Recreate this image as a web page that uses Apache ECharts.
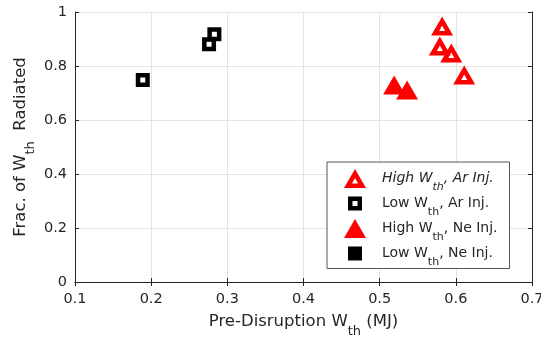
<!DOCTYPE html>
<html><head><meta charset="utf-8">
<script src="https://cdn.jsdelivr.net/npm/echarts@6/dist/echarts.min.js"></script>
<style>html,body{margin:0;padding:0;background:#fff}#c{width:541px;height:337px}</style>
</head><body><div id="c"></div>
<script>
const highAr = [[0.582, 0.948], [0.579, 0.874], [0.594, 0.848], [0.611, 0.767]];
const lowAr = [[0.189, 0.748], [0.276, 0.881], [0.283, 0.918]];
const highNe = [[0.519, 0.730], [0.536, 0.711]];
const lowNe = [];
const xTicks = [0.1, 0.2, 0.3, 0.4, 0.5, 0.6, 0.7];
const yTicks = [0, 0.2, 0.4, 0.6, 0.8, 1];
const names = ['High Ar', 'Low Ar', 'High Ne', 'Low Ne'];

const FONT = 'DejaVu Sans';
const TXT = '#262626';
const RED = '#ff0000';

// symbol shapes
const hollowTri = 'path://M0,19 L11,0 L22,19 Z M8,14.5 L14,14.5 L11,9 Z';
const hollowSq = 'path://M0,0 L0,14 L14,14 L14,0 Z M4.5,4.5 L9.5,4.5 L9.5,9.5 L4.5,9.5 Z';
// legend icons in a 44x19 box (tiny corner marks fix the box)
const pad = 'M0,0 L0.01,0 L0,0.01 Z M44,19 L43.99,19 L44,18.99 Z ';
const lgHollowTri = 'path://' + pad + 'M11,19 L22,0 L33,19 Z M19,14.5 L25,14.5 L22,9 Z';
const lgFilledTri = 'path://' + pad + 'M11,19 L22,0 L33,19 Z';
const lgHollowSq = 'path://' + pad + 'M15,2.5 L15,16.5 L29,16.5 L29,2.5 Z M19.5,7 L24.5,7 L24.5,12 L19.5,12 Z';
const lgFilledSq = 'path://' + pad + 'M15,2.5 L15,16.5 L29,16.5 L29,2.5 Z';

const chart = echarts.init(document.getElementById('c'));
const legendText = {
  'High Ar': '{i|High W}{is|th}{i|, Ar Inj.}',
  'Low Ar': '{n|Low W}{s|th}{n|, Ar Inj.}',
  'High Ne': '{n|High W}{s|th}{n|, Ne Inj.}',
  'Low Ne': '{n|Low W}{s|th}{n|, Ne Inj.}'
};
const axisCommon = {
  axisLine: {show: true, lineStyle: {color: TXT, width: 1}},
  axisTick: {show: true, inside: true, length: 4, lineStyle: {color: TXT}},
};
const nameRich = {
  n: {fontSize: 16.5, color: TXT, fontFamily: FONT, lineHeight: 32, verticalAlign: 'middle'},
  s: {fontSize: 13, color: TXT, fontFamily: FONT, lineHeight: 32, verticalAlign: 'bottom'}
};
chart.setOption({
  animation: false,
  textStyle: {fontFamily: FONT, color: TXT},
  grid: {left: 75, right: 9, top: 12, bottom: 55, outerBoundsMode: 'none', containLabel: false},
  legend: {
    orient: 'vertical', left: 327, top: 162,
    padding: [7, 12, 1, 6], itemGap: 1.5,
    itemWidth: 44, itemHeight: 19,
    borderColor: '#555', borderWidth: 1, backgroundColor: '#fff',
    data: [
      {name: 'High Ar', icon: lgHollowTri},
      {name: 'Low Ar', icon: lgHollowSq},
      {name: 'High Ne', icon: lgFilledTri},
      {name: 'Low Ne', icon: lgFilledSq}
    ],
    formatter: n => legendText[n],
    textStyle: {
      color: TXT, fontFamily: FONT, fontSize: 14,
      rich: {
        n: {fontSize: 14, color: TXT, fontFamily: FONT, lineHeight: 28, verticalAlign: 'middle'},
        i: {fontSize: 14, color: TXT, fontFamily: FONT, fontStyle: 'italic', lineHeight: 28, verticalAlign: 'middle'},
        s: {fontSize: 11, color: TXT, fontFamily: FONT, lineHeight: 28, verticalAlign: 'bottom'},
        is: {fontSize: 11, color: TXT, fontFamily: FONT, fontStyle: 'italic', lineHeight: 28, verticalAlign: 'bottom'}
      }
    }
  },
  xAxis: [{
    type: 'value', min: 0.1, max: 0.7, interval: 0.1,
    ...axisCommon,
    axisLabel: {color: TXT, fontSize: 14.5, fontFamily: FONT, margin: 10,
      formatter: v => { const r = Math.round(v * 10) / 10; return xTicks.includes(r) ? r.toFixed(1) : ''; }},
    splitLine: {show: true, lineStyle: {color: '#e3e3e3'}},
    name: '{n|Pre-Disruption W}{s|th}{n| (MJ)}', nameLocation: 'middle', nameGap: 24,
    nameTextStyle: {rich: nameRich}
  }, {
    type: 'value', position: 'top', min: 0.1, max: 0.7, interval: 0.1,
    ...axisCommon, axisLabel: {show: false}, splitLine: {show: false}
  }],
  yAxis: [{
    type: 'value', min: 0, max: 1, interval: 0.2,
    ...axisCommon,
    axisLabel: {color: TXT, fontSize: 14.5, fontFamily: FONT, margin: 8,
      formatter: v => { const r = Math.round(v * 10) / 10; return (r === 0 || r === 1) ? String(r) : r.toFixed(1); }},
    splitLine: {show: true, lineStyle: {color: '#e3e3e3'}},
    name: '{n|Frac. of W}{s|th}{n|  Radiated}', nameLocation: 'middle', nameGap: 38, nameRotate: 90,
    nameMoveOverlap: false,
    nameTextStyle: {rich: nameRich}
  }, {
    type: 'value', position: 'right', min: 0, max: 1, interval: 0.2,
    ...axisCommon, axisLabel: {show: false}, splitLine: {show: false}
  }],
  series: [
    {name: 'High Ar', type: 'scatter', data: highAr, symbol: hollowTri, symbolSize: [22, 19],
      itemStyle: {color: RED, borderWidth: 0, opacity: 1}},
    {name: 'Low Ar', type: 'scatter', data: lowAr, symbol: hollowSq, symbolSize: 14,
      itemStyle: {color: '#000', borderWidth: 0, opacity: 1}},
    {name: 'High Ne', type: 'scatter', data: highNe, symbol: 'triangle', symbolSize: [22, 19],
      itemStyle: {color: RED, borderWidth: 0, opacity: 1}},
    {name: 'Low Ne', type: 'scatter', data: lowNe, symbol: 'rect', symbolSize: 14,
      itemStyle: {color: '#000', opacity: 1}}
  ]
});
</script></body></html>
